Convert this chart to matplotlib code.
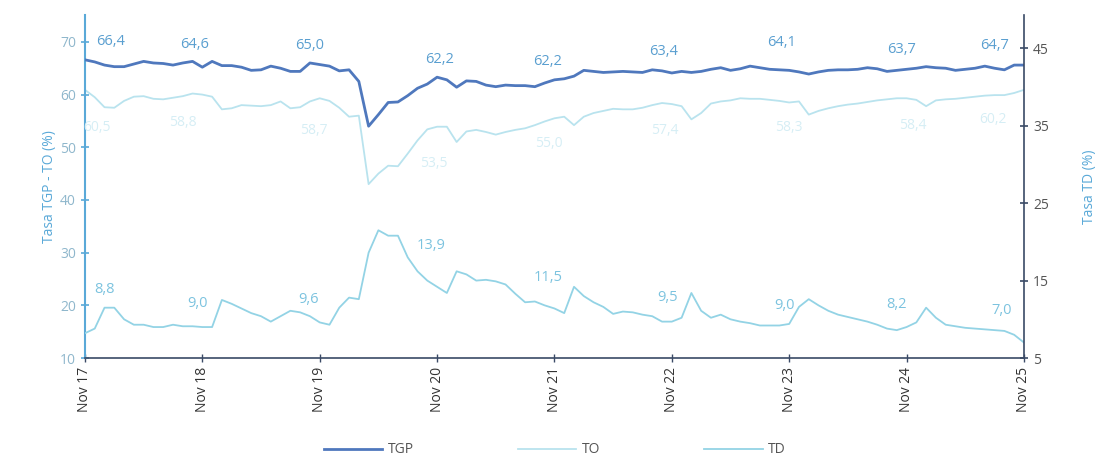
import matplotlib
matplotlib.use("Agg")
import matplotlib.pyplot as plt
import numpy as np

plt.rcParams['font.family'] = ['Open Sans', 'DejaVu Sans']

# ---------------- data (monthly, Nov 2017 - Nov 2025) ----------------
tick_labels = ["Nov 17", "Nov 18", "Nov 19", "Nov 20", "Nov 21",
               "Nov 22", "Nov 23", "Nov 24", "Nov 25"]

tgp = [66.6, 66.2, 65.6, 65.3, 65.3, 65.8, 66.3, 66.0, 65.9, 65.6, 66.0, 66.3,
       65.2, 66.3, 65.5, 65.5, 65.2, 64.6, 64.7, 65.4, 65.0, 64.4, 64.4, 66.0,
       65.7, 65.4, 64.5, 64.7, 62.5, 54.0, 56.2, 58.5, 58.6, 59.8, 61.2, 62.0,
       63.3, 62.8, 61.4, 62.6, 62.5, 61.8, 61.5, 61.8, 61.7, 61.7, 61.5, 62.2,
       62.8, 63.0, 63.5, 64.6, 64.4, 64.2, 64.3, 64.4, 64.3, 64.2, 64.7, 64.5,
       64.1, 64.4, 64.2, 64.4, 64.8, 65.1, 64.6, 64.9, 65.4, 65.1, 64.8, 64.7,
       64.6, 64.3, 63.9, 64.3, 64.6, 64.7, 64.7, 64.8, 65.1, 64.9, 64.4, 64.6,
       64.8, 65.0, 65.3, 65.1, 65.0, 64.6, 64.8, 65.0, 65.4, 65.0, 64.7, 65.6,
       65.6]

to = [60.9, 59.5, 57.6, 57.5, 58.8, 59.6, 59.7, 59.2, 59.1, 59.4, 59.7, 60.2,
      60.0, 59.6, 57.2, 57.4, 58.0, 57.9, 57.8, 58.0, 58.7, 57.4, 57.6, 58.7,
      59.3, 58.8, 57.5, 55.8, 56.0, 43.0, 45.0, 46.5, 46.4, 48.8, 51.3, 53.4,
      53.9, 53.9, 51.0, 53.0, 53.3, 52.9, 52.4, 52.9, 53.3, 53.6, 54.2, 54.9,
      55.5, 55.8, 54.2, 55.8, 56.5, 56.9, 57.3, 57.2, 57.2, 57.5, 58.0, 58.4,
      58.2, 57.8, 55.3, 56.5, 58.3, 58.7, 58.9, 59.3, 59.2, 59.2, 59.0, 58.8,
      58.5, 58.7, 56.2, 56.9, 57.4, 57.8, 58.1, 58.3, 58.6, 58.9, 59.1, 59.3,
      59.3, 59.0, 57.8, 58.9, 59.1, 59.2, 59.4, 59.6, 59.8, 59.9, 59.9, 60.3,
      60.9]

td = [8.2, 8.8, 11.5, 11.5, 10.0, 9.3, 9.3, 9.0, 9.0, 9.3, 9.1, 9.1,
      9.0, 9.0, 12.5, 12.0, 11.4, 10.8, 10.4, 9.7, 10.4, 11.1, 10.9, 10.4,
      9.6, 9.3, 11.5, 12.8, 12.6, 18.6, 21.5, 20.8, 20.8, 18.0, 16.2, 15.0,
      14.2, 13.4, 16.2, 15.8, 15.0, 15.1, 14.9, 14.5, 13.3, 12.2, 12.3, 11.8,
      11.4, 10.8, 14.2, 13.0, 12.2, 11.6, 10.7, 11.0, 10.9, 10.6, 10.4, 9.7,
      9.7, 10.2, 13.4, 11.1, 10.2, 10.6, 10.0, 9.7, 9.5, 9.2, 9.2, 9.2,
      9.4, 11.6, 12.6, 11.8, 11.1, 10.6, 10.3, 10.0, 9.7, 9.3, 8.8, 8.6,
      9.0, 9.6, 11.5, 10.2, 9.3, 9.1, 8.9, 8.8, 8.7, 8.6, 8.5, 8.0,
      7.0]

tgp_labels = ["66,4", "64,6", "65,0", "62,2", "62,2", "63,4", "64,1", "63,7", "64,7"]
to_labels = ["60,5", "58,8", "58,7", "53,5", "55,0", "57,4", "58,3", "58,4", "60,2"]
td_labels = ["8,8", "9,0", "9,6", "13,9", "11,5", "9,5", "9,0", "8,2", "7,0"]

# ---------------- styling / layout ----------------
c_tgp = "#4f78bd"
c_to = "#b9e3ee"
c_td = "#93d3e5"
c_tgp_lab = "#5a9fd0"
c_to_lab = "#d6eef5"
c_td_lab = "#7cc3df"
c_axis_l = "#5aa9d8"

x = np.arange(len(tgp))
xt = np.arange(0, len(tgp), 12)

fig = plt.figure(figsize=(10.99, 4.61), dpi=100)
ax = fig.add_axes([0.0773, 0.2234, 0.8544, 0.744])
ax2 = ax.twinx()

l1, = ax.plot(x, tgp, color=c_tgp, lw=2.0, label="TGP", zorder=3)
l2, = ax.plot(x, to, color=c_to, lw=1.3, label="TO", zorder=2)
l3, = ax2.plot(x, td, color=c_td, lw=1.3, label="TD", zorder=2)

ax.set_xlim(0, len(tgp) - 1)
ax.set_ylim(10, 75.1)
ax2.set_ylim(5, 49.3)

ax.set_xticks(xt)
ax.set_xticklabels(tick_labels, rotation=90, fontsize=10, color="#333333")
ax.set_yticks([10, 20, 30, 40, 50, 60, 70])
ax.tick_params(axis="y", colors=c_axis_l, labelcolor="#8fb7cc", labelsize=10,
               direction="inout", length=6, width=1.2)
ax.tick_params(axis="x", direction="inout", length=6, width=1.0, colors="#3a4a66",
               labelcolor="#333333")
ax2.set_yticks([5, 15, 25, 35, 45])
ax2.tick_params(axis="y", colors="#3a4a66", labelcolor="#555555", labelsize=10,
                direction="inout", length=6, width=1.2)

for a in (ax, ax2):
    a.spines["top"].set_visible(False)
ax.spines["left"].set_color(c_axis_l)
ax.spines["left"].set_linewidth(1.5)
ax2.spines["left"].set_visible(False)
ax.spines["bottom"].set_color("#3a4a66")
ax.spines["bottom"].set_linewidth(1.2)
ax2.spines["bottom"].set_visible(False)
ax2.spines["right"].set_color("#3a4a66")
ax2.spines["right"].set_linewidth(1.2)
ax.spines["right"].set_visible(False)

ax.set_ylabel("Tasa TGP - TO (%)", color=c_axis_l, fontsize=10, labelpad=2)
ax2.set_ylabel("Tasa TD (%)", color=c_axis_l, fontsize=10, rotation=90, labelpad=24)

# data labels
tgp_dx = [2.6, -0.8, -1.0, 0.3, -0.7, -0.8, -0.8, -0.5, -3.0]
tgp_y = [70.0, 69.6, 69.4, 66.6, 66.2, 68.1, 69.8, 68.5, 69.4]
to_dx = [1.2, -2.0, -0.6, -0.3, -0.6, -0.7, 0.0, 0.6, -3.2]
to_y = [53.8, 54.7, 53.2, 47.0, 50.7, 53.2, 53.8, 54.2, 55.2]
td_dx = [2.0, -0.5, -1.1, -0.6, -0.6, -0.4, -0.5, -1.0, -2.3]
td_y = [13.8, 12.1, 12.5, 19.5, 15.4, 12.8, 11.8, 11.9, 11.2]

for i in range(len(tgp_labels)):
    xm = xt[i]
    ax.text(xm + tgp_dx[i], tgp_y[i], tgp_labels[i], color=c_tgp_lab,
            fontsize=10.5, ha="center", va="center", zorder=4)
    ax.text(xm + to_dx[i], to_y[i], to_labels[i], color=c_to_lab,
            fontsize=10, ha="center", va="center", zorder=4)
    ax2.text(xm + td_dx[i], td_y[i], td_labels[i], color=c_td_lab,
             fontsize=10.5, ha="center", va="center", zorder=4)

leg = fig.legend(handles=[l1, l2, l3], labels=["TGP", "TO", "TD"],
                 loc="center", bbox_to_anchor=(0.505, 0.024), ncol=3,
                 frameon=False, fontsize=10, handlelength=4.2,
                 columnspacing=7.5, handletextpad=0.4)
for t in leg.get_texts():
    t.set_color("#555555")

fig.savefig("out.png", dpi=100)
